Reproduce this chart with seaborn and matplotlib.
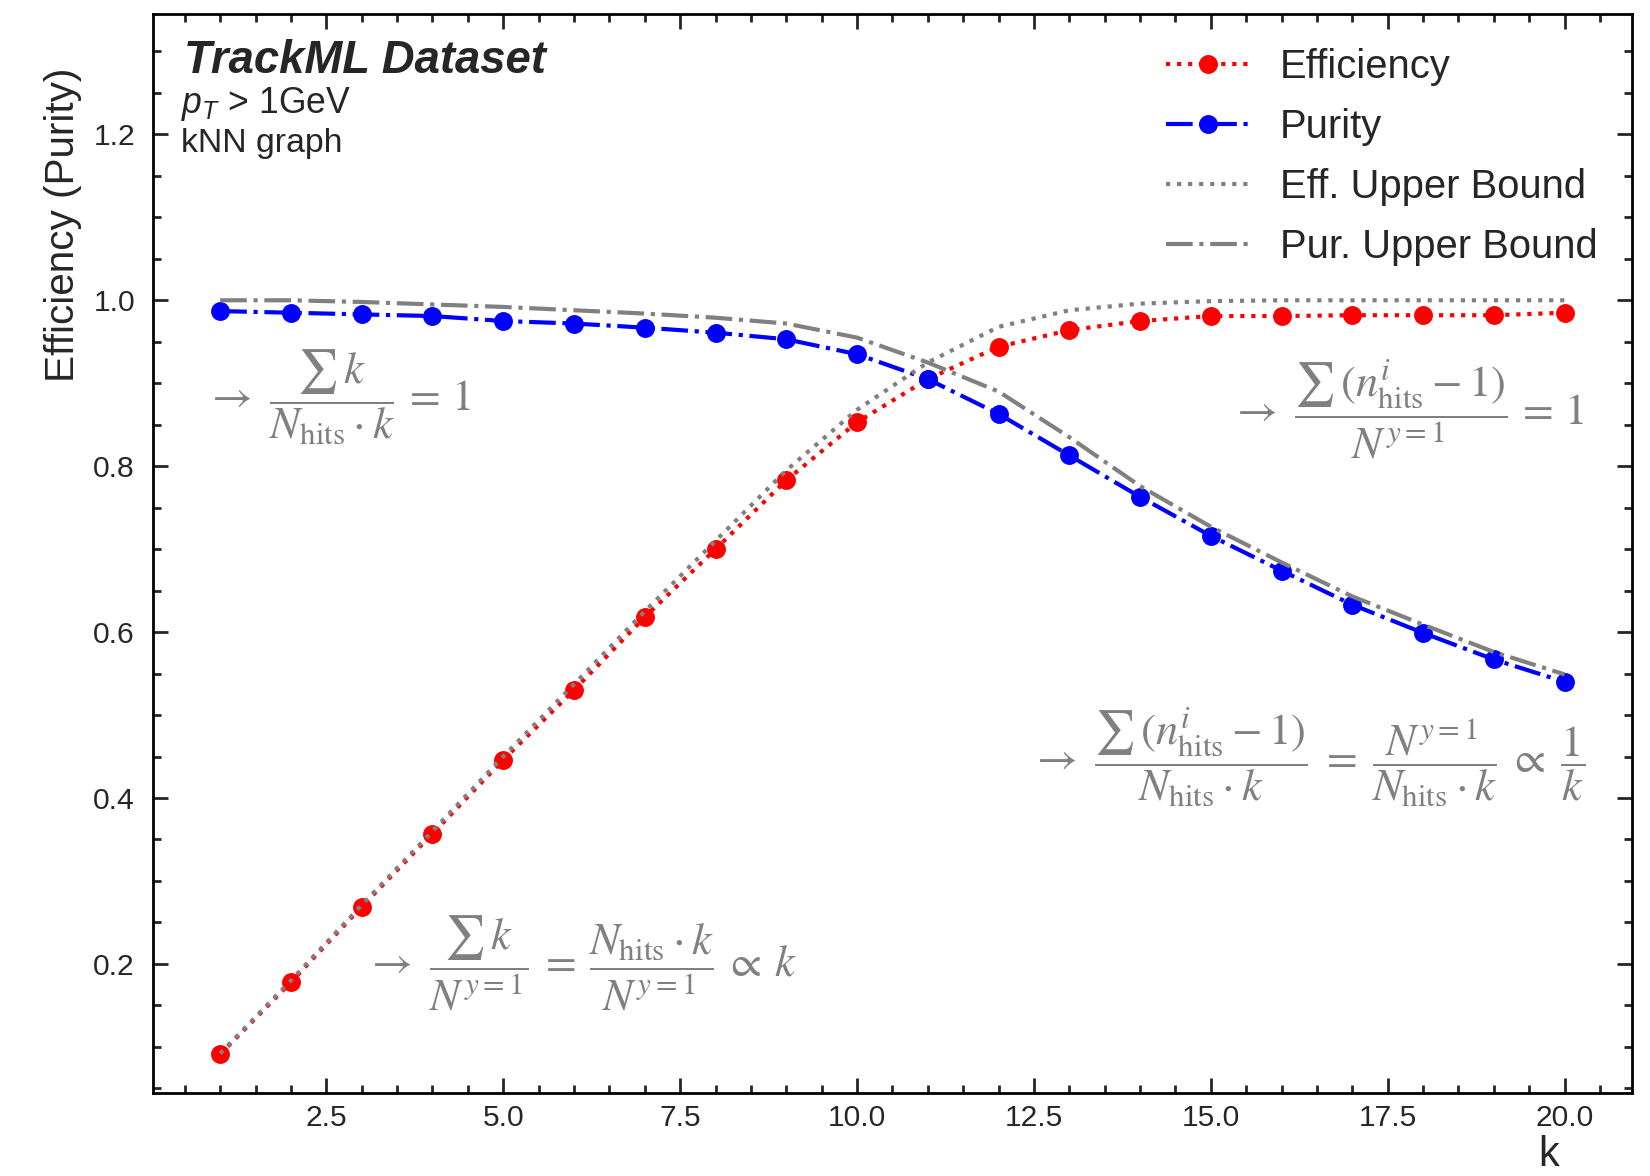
import numpy as np
import pandas as pd
import matplotlib
matplotlib.use("Agg")
import matplotlib.pyplot as plt
import seaborn as sns
from matplotlib.ticker import MultipleLocator

# values
k = list(range(1, 21))
efficiency = [0.091, 0.178, 0.269, 0.357, 0.446, 0.530, 0.618, 0.700, 0.783, 0.853,
              0.905, 0.944, 0.964, 0.975, 0.981, 0.981, 0.982, 0.982, 0.982, 0.985]
purity = [0.987, 0.985, 0.983, 0.981, 0.975, 0.972, 0.967, 0.961, 0.953, 0.935,
          0.905, 0.863, 0.813, 0.763, 0.716, 0.674, 0.633, 0.599, 0.567, 0.540]
eff_bound = [0.092, 0.180, 0.271, 0.360, 0.450, 0.537, 0.625, 0.710, 0.795, 0.868,
             0.925, 0.968, 0.988, 0.996, 0.999, 1.000, 1.000, 1.000, 1.000, 1.000]
pur_bound = [1.000, 1.000, 0.998, 0.995, 0.992, 0.988, 0.984, 0.979, 0.972, 0.955,
             0.925, 0.890, 0.835, 0.776, 0.727, 0.684, 0.643, 0.609, 0.576, 0.549]

df = pd.DataFrame({"k": k, "eff": efficiency, "pur": purity,
                   "eff_ub": eff_bound, "pur_ub": pur_bound})

sns.set_style("ticks")
plt.rcParams["font.family"] = ["Liberation Sans", "DejaVu Sans"]
plt.rcParams["mathtext.fontset"] = "custom"
plt.rcParams["mathtext.rm"] = "Liberation Sans"
plt.rcParams["mathtext.it"] = "Liberation Sans:italic"
plt.rcParams["mathtext.bf"] = "Liberation Sans:bold"

fig, ax = plt.subplots(figsize=(8.25, 5.88), dpi=200)
fig.subplots_adjust(left=0.0927, right=0.989, bottom=0.0706, top=0.988)

lw = 1.5
ms = 6.8
sns.lineplot(data=df, x="k", y="eff", ax=ax, color="red", linestyle=":", lw=lw,
             marker="o", markersize=ms, markeredgecolor="red", markeredgewidth=0,
             label="Efficiency")
sns.lineplot(data=df, x="k", y="pur", ax=ax, color="blue", linestyle="-.", lw=lw,
             marker="o", markersize=ms, markeredgecolor="blue", markeredgewidth=0,
             label="Purity")
sns.lineplot(data=df, x="k", y="eff_ub", ax=ax, color="grey", linestyle=":", lw=lw,
             label="Eff. Upper Bound")
sns.lineplot(data=df, x="k", y="pur_ub", ax=ax, color="grey", linestyle="-.", lw=lw,
             label="Pur. Upper Bound")

ax.set_xlim(0.05, 20.95)
ax.set_ylim(0.0444, 1.345)

ax.xaxis.set_major_locator(MultipleLocator(2.5))
ax.xaxis.set_minor_locator(MultipleLocator(0.5))
ax.yaxis.set_major_locator(MultipleLocator(0.2))
ax.yaxis.set_minor_locator(MultipleLocator(0.05))
ax.tick_params(which="both", direction="in", top=True, right=True, width=1.0)
ax.tick_params(which="major", length=5.4)
ax.tick_params(which="minor", length=2.9)
ax.tick_params(axis="x", pad=4)
ax.tick_params(axis="y", pad=6.5)
for lab in ax.get_xticklabels() + ax.get_yticklabels():
    lab.set_family(["Liberation Sans Narrow", "Liberation Sans"])
    lab.set_fontsize(10.8)
for sp in ax.spines.values():
    sp.set_linewidth(1.0)
    sp.set_color("black")

ax.set_xlabel("k", fontsize=15, va="top")
ax.xaxis.set_label_coords(0.944, -0.039)
ax.set_ylabel("Efficiency (Purity)", fontsize=14.6, loc="top")
ax.yaxis.set_label_coords(-0.048, 0.95)

ax.text(0.021, 0.957, "TrackML Dataset", transform=ax.transAxes, fontsize=16.4,
        fontweight="bold", fontstyle="italic", va="center", ha="left")
ax.text(0.019, 0.917, r"$p_T$ > 1GeV", transform=ax.transAxes, fontsize=12.8,
        va="center", ha="left")
ax.text(0.019, 0.880, "kNN graph", transform=ax.transAxes, fontsize=12.2,
        va="center", ha="left")

leg = ax.legend(loc="upper right", fontsize=14.4, frameon=False, handlelength=2.1,
                handletextpad=0.75, labelspacing=0.55, borderaxespad=0.45)

grey = "#808080"
fs = 16
ax.text(0.78, 0.883, r"$\rightarrow\ \dfrac{\sum\, k}{N_{\mathrm{hits}}\cdot k}\,=\,1$",
        color=grey, fontsize=fs, math_fontfamily="stix", va="center", ha="left")
ax.text(20.28, 0.869,
        r"$\rightarrow\ \dfrac{\sum\,(n^{i}_{\mathrm{hits}}-1)}{N^{y=1}}\,=\,1$",
        color=grey, fontsize=fs, math_fontfamily="stix", va="center", ha="right")
ax.text(12.45, 0.449,
        r"$\rightarrow\ \dfrac{\sum\,(n^{i}_{\mathrm{hits}}-1)}{N_{\mathrm{hits}}\cdot k}"
        r"\;=\;\dfrac{N^{y=1}}{N_{\mathrm{hits}}\cdot k}\;\propto\;\dfrac{1}{k}$",
        color=grey, fontsize=fs, math_fontfamily="stix", va="center", ha="left")
ax.text(3.05, 0.201,
        r"$\rightarrow\ \dfrac{\sum\, k}{N^{y=1}}\:=\:\dfrac{N_{\mathrm{hits}}\cdot k}{N^{y=1}}"
        r"\:\propto\:k$",
        color=grey, fontsize=fs, math_fontfamily="stix", va="center", ha="left")

fig.savefig("out.png", dpi=200)
